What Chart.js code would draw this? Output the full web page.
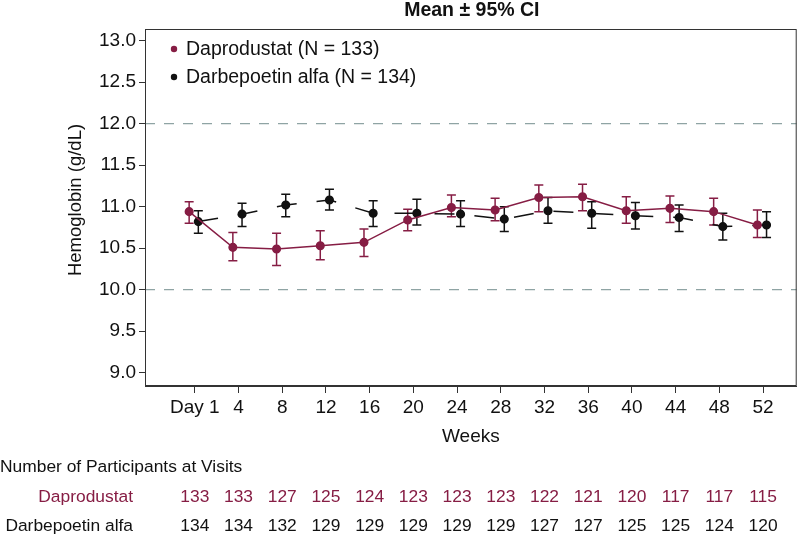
<!DOCTYPE html>
<html>
<head>
<meta charset="utf-8">
<style>
	html, body { margin: 0; padding: 0; background: #fff; }
	#wrap { width: 802px; height: 535px; position: relative; }
</style>
<script src="https://cdn.jsdelivr.net/npm/chart.js"></script>
</head>
<body>
<div id="wrap"><canvas id="myChart" width="802" height="535"></canvas></div>
<script>
// visit labels (x categories)
const weekLabels = ['Day 1', '4', '8', '12', '16', '20', '24', '28', '32', '36', '40', '44', '48', '52'];

// Daprodustat: mean and 95% CI
const daproMean = [10.94, 10.51, 10.49, 10.53, 10.57, 10.84, 10.99, 10.96, 11.11, 11.12, 10.95, 10.98, 10.94, 10.78];
const daproLow  = [10.80, 10.35, 10.29, 10.36, 10.40, 10.71, 10.88, 10.83, 10.94, 10.95, 10.80, 10.81, 10.78, 10.63];
const daproHigh = [11.06, 10.69, 10.68, 10.71, 10.73, 10.97, 11.14, 11.10, 11.26, 11.27, 11.12, 11.13, 11.10, 10.96];

// Darbepoetin alfa: mean and 95% CI
const darbeMean = [10.82, 10.91, 11.02, 11.08, 10.92, 10.92, 10.91, 10.85, 10.95, 10.92, 10.89, 10.87, 10.76, 10.78];
const darbeLow  = [10.68, 10.76, 10.88, 10.96, 10.76, 10.78, 10.76, 10.70, 10.80, 10.74, 10.73, 10.70, 10.60, 10.63];
const darbeHigh = [10.95, 11.04, 11.15, 11.21, 11.07, 11.09, 11.07, 11.00, 11.11, 11.06, 11.05, 11.02, 10.92, 10.94];

// participants at visits
const daproN = [133, 133, 127, 125, 124, 123, 123, 123, 122, 121, 120, 117, 117, 115];
const darbeN = [134, 134, 132, 129, 129, 129, 129, 129, 127, 127, 125, 125, 124, 120];

const yTicks = [9.0, 9.5, 10.0, 10.5, 11.0, 11.5, 12.0, 12.5, 13.0];
const refLines = [10.0, 12.0];

const seriesNames = ['Daprodustat (N = 133)', 'Darbepoetin alfa (N = 134)'];
const tableNames = ['Daprodustat', 'Darbepoetin alfa'];

const MAROON = '#861d44';
const BLACK = '#111111';
const REFCOL = '#8fa4a4';
const FONT = '"Liberation Sans", Arial, Helvetica, sans-serif';
const X_MIN = -1.14, X_MAX = 13.77;
const DAPRO_SHIFT = -0.13, DARBE_SHIFT = 0.08;

const toPts = (arr, shift) => arr.map((v, i) => ({x: i + shift, y: v}));

const datasets = [
	{
		label: seriesNames[0],
		data: toPts(daproMean, DAPRO_SHIFT),
		borderColor: MAROON, backgroundColor: MAROON,
		borderWidth: 1.5, pointRadius: 3.8, pointHoverRadius: 3.8,
		lo: daproLow, hi: daproHigh, shift: DAPRO_SHIFT
	},
	{
		label: seriesNames[1],
		data: toPts(darbeMean, DARBE_SHIFT),
		borderColor: BLACK, backgroundColor: BLACK,
		borderWidth: 1.5, borderDash: [20, 20], pointRadius: 3.8, pointHoverRadius: 3.8,
		lo: darbeLow, hi: darbeHigh, shift: DARBE_SHIFT
	}
];
refLines.forEach(v => {
	datasets.push({
		label: 'ref',
		data: [{x: X_MIN, y: v}, {x: X_MAX, y: v}],
		borderColor: REFCOL, borderWidth: 1.3, borderDash: [10, 9],
		pointRadius: 0, isRef: true
	});
});

// error bars drawn under the points
const errorBars = {
	id: 'errorBars',
	beforeDatasetsDraw(chart) {
		const c = chart.ctx, xs = chart.scales.x, ys = chart.scales.y;
		chart.data.datasets.forEach(ds => {
			if (!ds.lo) return;
			c.save();
			c.strokeStyle = ds.borderColor;
			c.lineWidth = 1.5;
			ds.lo.forEach((lo, i) => {
				const px = xs.getPixelForValue(i + ds.shift);
				const y1 = ys.getPixelForValue(lo), y2 = ys.getPixelForValue(ds.hi[i]);
				c.beginPath();
				c.moveTo(px, y1); c.lineTo(px, y2);
				c.moveTo(px - 4.5, y1); c.lineTo(px + 4.5, y1);
				c.moveTo(px - 4.5, y2); c.lineTo(px + 4.5, y2);
				c.stroke();
			});
			c.restore();
		});
	}
};

// frame, title, legend, axis titles and participants table
const decorations = {
	id: 'decorations',
	afterDraw(chart) {
		const c = chart.ctx, a = chart.chartArea, xs = chart.scales.x;
		c.save();
		c.strokeStyle = '#333';
		c.lineWidth = 1;
		c.strokeRect(a.left + 0.5, a.top + 0.5, a.right - a.left - 1, a.bottom - a.top - 1);

		const midX = (a.left + a.right) / 2;
		c.fillStyle = BLACK;
		c.textBaseline = 'middle';
		c.textAlign = 'center';
		c.font = 'bold 19.5px ' + FONT;
		c.fillText('Mean \u00b1 95% CI', midX + 1, 11);

		// legend inside plot
		c.textAlign = 'left';
		c.font = '19.5px ' + FONT;
		[MAROON, BLACK].forEach((col, k) => {
			const y = 49 + k * 28;
			c.fillStyle = col;
			c.beginPath(); c.arc(174, y, 3.2, 0, Math.PI * 2); c.fill();
			c.fillStyle = BLACK;
			c.fillText(seriesNames[k], 186, y + 1);
		});

		// axis titles
		c.textAlign = 'center';
		c.font = '19px ' + FONT;
		c.fillText('Weeks', midX, 437);
		c.save();
		c.translate(76, 200);
		c.rotate(-Math.PI / 2);
		c.font = '18.5px ' + FONT;
		c.fillText('Hemoglobin (g/dL)', 0, 0);
		c.restore();

		// table
		c.font = '17.4px ' + FONT;
		c.textAlign = 'left';
		c.fillText('Number of Participants at Visits', 0, 467);
		[[daproN, MAROON, 497], [darbeN, BLACK, 526]].forEach(([arr, col, y], k) => {
			c.fillStyle = col;
			c.textAlign = 'right';
			c.fillText(tableNames[k], 133, y);
			c.textAlign = 'center';
			arr.forEach((n, i) => c.fillText(String(n), xs.getPixelForValue(i), y));
		});
		c.restore();
	}
};

new Chart(document.getElementById('myChart'), {
	type: 'line',
	data: { datasets: datasets },
	plugins: [errorBars, decorations],
	options: {
		responsive: false,
		animation: false,
		events: [],
		layout: { padding: { top: 29, right: 2, left: 0, bottom: 0 } },
		plugins: { legend: { display: false }, title: { display: false }, tooltip: { enabled: false } },
		scales: {
			x: {
				type: 'linear', min: X_MIN, max: X_MAX,
				afterFit(s) { s.height = 149; },
				afterBuildTicks(s) { s.ticks = weekLabels.map((_, i) => ({value: i})); },
				ticks: {
					autoSkip: false, maxRotation: 0, padding: 3,
					color: BLACK, font: { family: FONT, size: 19 },
					callback: (v) => weekLabels[v]
				},
				grid: { drawOnChartArea: false, drawTicks: true, tickLength: 7, color: '#333', lineWidth: 1 },
				border: { display: true, color: '#333', width: 1 }
			},
			y: {
				min: 8.84, max: 13.14,
				afterFit(s) { s.width = 145; },
				afterBuildTicks(s) { s.ticks = yTicks.map(v => ({value: v})); },
				ticks: {
					padding: 3, color: BLACK, font: { family: FONT, size: 19 },
					callback: (v) => v.toFixed(1)
				},
				grid: { drawOnChartArea: false, drawTicks: true, tickLength: 6, color: '#333', lineWidth: 1 },
				border: { display: true, color: '#333', width: 1 }
			}
		}
	}
});
</script>
</body>
</html>
